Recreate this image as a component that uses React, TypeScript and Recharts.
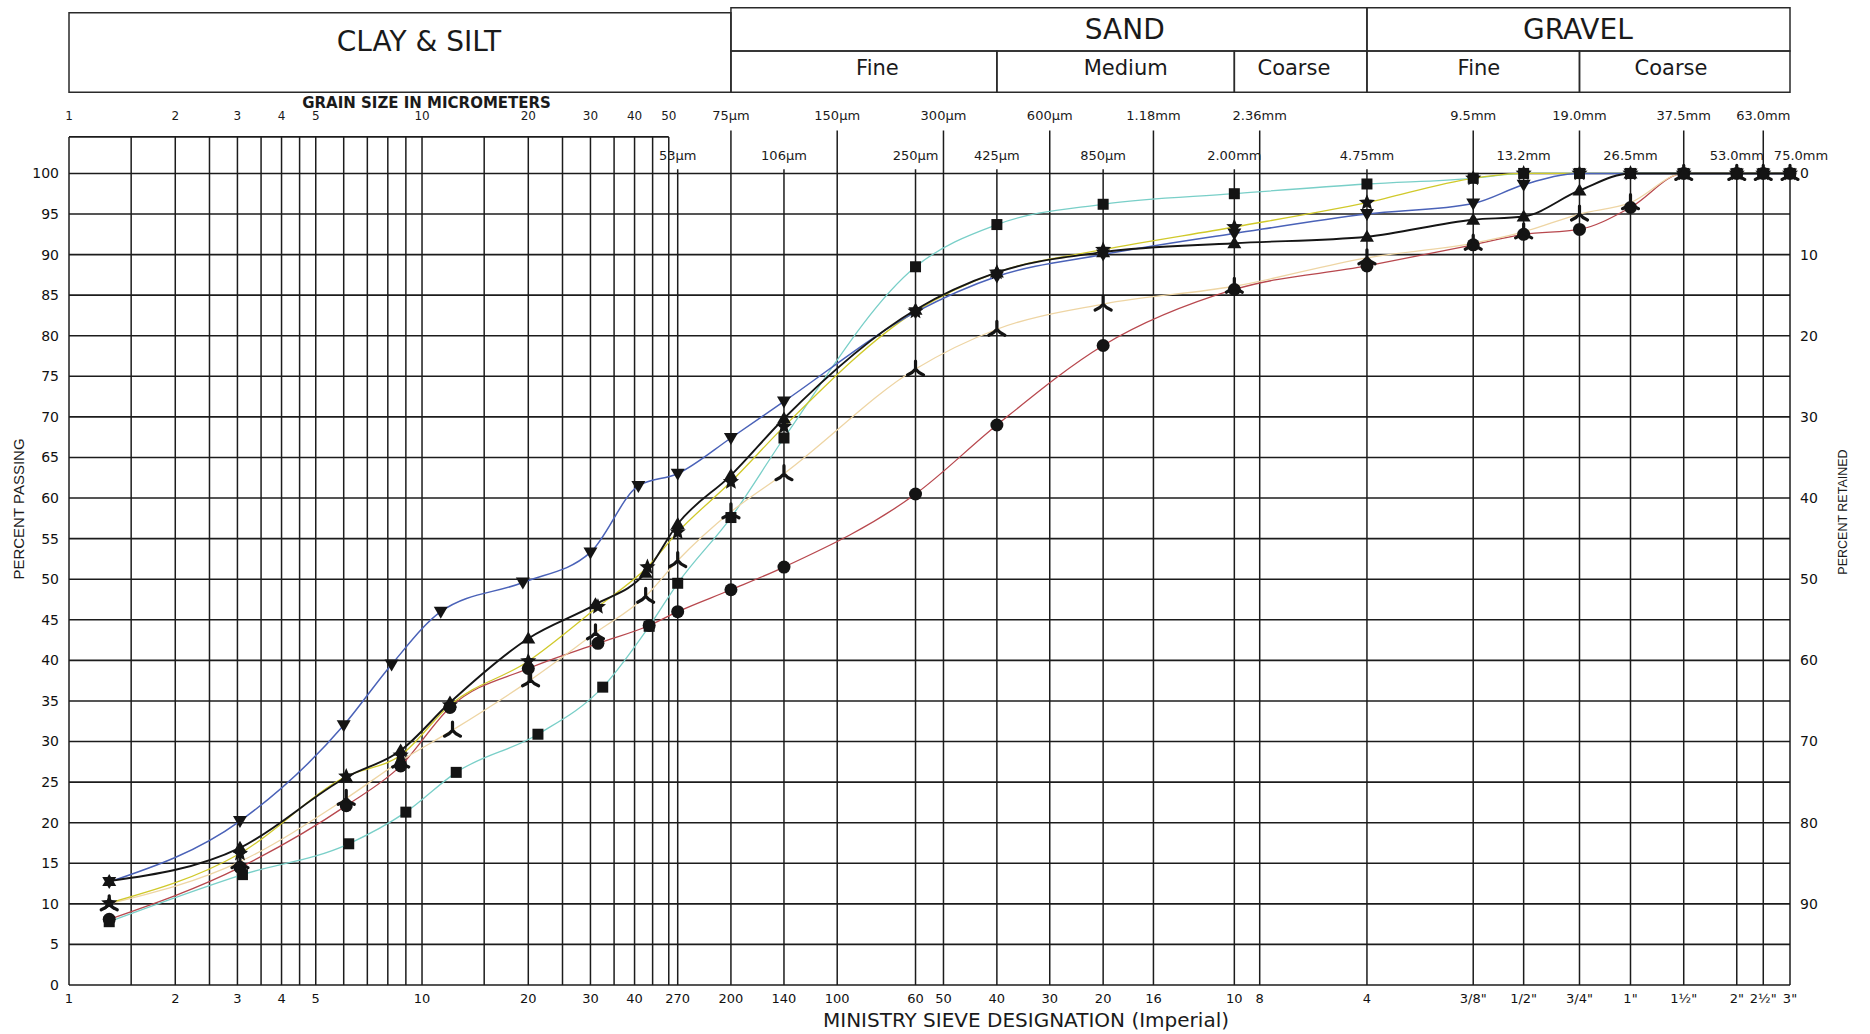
import React from "react";
import {
  ComposedChart,
  Line,
  Scatter,
  XAxis,
  YAxis,
  ReferenceLine,
  ReferenceArea,
} from "recharts";

// sieve openings (µm) shared by every sample
const sieveSizes = [53, 75, 106, 250, 425, 850, 2000, 4750, 9500, 13200, 19000, 26500, 37500, 53000, 63000, 75000];

// hydrometer diameters (µm) and percent passing, per sample
const blueFineSizes = [1.3, 3.05, 6.0, 8.2, 11.3, 19.3, 30, 41];
const blueFinePassing = [12.7, 20.2, 32.0, 39.5, 46.0, 49.6, 53.3, 61.5];
const blueSievePassing = [63.0, 67.4, 71.9, 82.9, 87.3, 90.0, 92.6, 95.0, 96.3, 98.6, 100, 100, 100, 100, 100, 100];

const blackFineSizes = [1.3, 3.05, 6.1, 8.7, 12.0, 20.0, 31, 43];
const blackFinePassing = [12.8, 16.9, 25.6, 28.9, 34.8, 42.7, 46.9, 50.8];
const blackSievePassing = [56.8, 62.8, 69.8, 83.2, 87.8, 90.3, 91.4, 92.2, 94.3, 94.7, 97.9, 100, 100, 100, 100, 100];

const yellowFineSizes = [1.3, 3.05, 6.1, 8.7, 12.0, 20.0, 31.5, 43.5];
const yellowFinePassing = [10.1, 16.2, 25.7, 28.3, 34.5, 39.9, 46.6, 51.5];
const yellowSievePassing = [55.8, 62.0, 68.8, 83.0, 87.8, 90.6, 93.4, 96.4, 99.4, 100, 100, 100, 100, 100, 100, 100];

const paleFineSizes = [1.3, 3.05, 6.1, 8.7, 12.2, 20.3, 31, 43];
const paleFinePassing = [10.0, 15.2, 23.0, 27.6, 31.4, 37.6, 43.4, 47.9];
const paleSievePassing = [52.3, 58.3, 63.0, 75.9, 80.8, 83.9, 86.1, 89.6, 91.4, 92.8, 95.0, 96.4, 100, 100, 100, 100];

const redFineSizes = [1.3, 3.05, 6.1, 8.7, 12.0, 20.0, 31.5, 44];
const redFinePassing = [8.1, 14.5, 22.1, 27.0, 34.2, 39.0, 42.1, 44.3];
const redSievePassing = [46.0, 48.7, 51.5, 60.5, 69.0, 78.8, 85.7, 88.6, 91.2, 92.5, 93.1, 95.8, 100, 100, 100, 100];

const tealFineSizes = [1.3, 3.1, 6.2, 9.0, 12.5, 21.3, 32.5, 44];
const tealFinePassing = [7.8, 13.6, 17.4, 21.3, 26.2, 30.9, 36.7, 44.2];
const tealSievePassing = [49.5, 57.6, 67.4, 88.5, 93.7, 96.2, 97.5, 98.7, 99.4, 100, 100, 100, 100, 100, 100, 100];

// grid
const passingTicks = [0, 5, 10, 15, 20, 25, 30, 35, 40, 45, 50, 55, 60, 65, 70, 75, 80, 85, 90, 95, 100];
const retainedTicks = [100, 90, 80, 70, 60, 50, 40, 30, 20, 10];
const micronLines = [1, 1.5, 2, 2.5, 3, 3.5, 4, 4.5, 5, 6, 7, 8, 9, 10, 15, 20, 25, 30, 35, 40, 45, 50];
const upperSieveLines = [75, 150, 300, 600, 1180, 2360, 9500, 19000, 37500, 63000];
const lowerSieveLines = [53, 106, 250, 425, 850, 2000, 4750, 13200, 26500, 53000, 75000];

// labels
const micronTopSizes = [1, 2, 3, 4, 5, 10, 20, 30, 40, 50];
const micronTopLabels = ["1", "2", "3", "4", "5", "10", "20", "30", "40", "50"];
const upperSieveLabels = ["75µm", "150µm", "300µm", "600µm", "1.18mm", "2.36mm", "9.5mm", "19.0mm", "37.5mm", "63.0mm"];
const lowerSieveLabels = ["53µm", "106µm", "250µm", "425µm", "850µm", "2.00mm", "4.75mm", "13.2mm", "26.5mm", "53.0mm", "75.0mm"];
const bottomTickSizes = [1, 2, 3, 4, 5, 10, 20, 30, 40, 53, 75, 106, 150, 250, 300, 425, 600, 850, 1180, 2000, 2360, 4750, 9500, 13200, 19000, 26500, 37500, 53000, 63000, 75000];
const bottomTickLabels = ["1", "2", "3", "4", "5", "10", "20", "30", "40", "270", "200", "140", "100", "60", "50", "40", "30", "20", "16", "10", "8", "4", '3/8"', '1/2"', '3/4"', '1"', '1½"', '2"', '2½"', '3"'];

// soil classes (µm bounds)
const mainZones = [
  { name: "CLAY & SILT", from: 1, to: 75, at: 9.8 },
  { name: "SAND", from: 75, to: 4750, at: 979 },
  { name: "GRAVEL", from: 4750, to: 75000, at: 18800 },
];
const subZones = [
  { name: "Fine", from: 75, to: 425, at: 195 },
  { name: "Medium", from: 425, to: 2000, at: 985 },
  { name: "Coarse", from: 2000, to: 4750, at: 2950 },
  { name: "Fine", from: 4750, to: 19000, at: 9860 },
  { name: "Coarse", from: 19000, to: 75000, at: 34500 },
];

const FONT = "DejaVu Sans";
const GRID = "#1c1c1c";

const toPoints = (fs: number[], fp: number[], sp: number[]) => [
  ...fs.map((x, i) => ({ x, y: fp[i] })),
  ...sieveSizes.map((x, i) => ({ x, y: sp[i] })),
];

const series = [
  { key: "red", color: "#b8484e", width: 1.3, marker: "circle", data: toPoints(redFineSizes, redFinePassing, redSievePassing) },
  { key: "teal", color: "#79cfc8", width: 1.3, marker: "square", data: toPoints(tealFineSizes, tealFinePassing, tealSievePassing) },
  { key: "pale", color: "#eed5a4", width: 1.3, marker: "tri", data: toPoints(paleFineSizes, paleFinePassing, paleSievePassing) },
  { key: "yellow", color: "#d0c92a", width: 1.3, marker: "star", data: toPoints(yellowFineSizes, yellowFinePassing, yellowSievePassing) },
  { key: "blue", color: "#4a62b8", width: 1.5, marker: "down", data: toPoints(blueFineSizes, blueFinePassing, blueSievePassing) },
  { key: "black", color: "#151515", width: 1.9, marker: "up", data: toPoints(blackFineSizes, blackFinePassing, blackSievePassing) },
];

function Marker({ kind, cx, cy }: { kind: string; cx: number; cy: number }) {
  const f = "#141414";
  if (kind === "down") return <path d={`M${cx - 7},${cy - 5}L${cx + 7},${cy - 5}L${cx},${cy + 7}Z`} fill={f} />;
  if (kind === "up") return <path d={`M${cx - 7},${cy + 5}L${cx + 7},${cy + 5}L${cx},${cy - 7}Z`} fill={f} />;
  if (kind === "square") return <rect x={cx - 5.5} y={cy - 5.5} width={11} height={11} fill={f} />;
  if (kind === "circle") return <circle cx={cx} cy={cy} r={6.5} fill={f} />;
  if (kind === "tri")
    return (
      <path
        d={`M${cx},${cy}L${cx},${cy - 8}M${cx},${cy}Q${cx - 3},${cy + 4} ${cx - 8},${cy + 6}M${cx},${cy}Q${cx + 3},${cy + 4} ${cx + 8},${cy + 6}`}
        stroke={f}
        strokeWidth={3.2}
        fill="none"
        strokeLinecap="round"
      />
    );
  const pts: string[] = [];
  for (let i = 0; i < 10; i++) {
    const r = i % 2 === 0 ? 8.5 : 3.8;
    const a = -Math.PI / 2 + (i * Math.PI) / 5;
    pts.push(`${cx + r * Math.cos(a)},${cy + r * Math.sin(a)}`);
  }
  return <polygon points={pts.join(" ")} fill={f} />;
}

const dotFor = (kind: string) => (p: any) => {
  if (p.cx == null || p.cy == null) return <g key={`${kind}-${p.index}`} />;
  return <Marker key={`${kind}-${p.index}`} kind={kind} cx={p.cx} cy={p.cy} />;
};

// the right-most label sits a little past the border line
const nudge = (t: string) => (t === "75.0mm" ? 11 : 0);

const textShape = (size: number, weight = 400) => (p: any) => (
  <text
    x={p.cx + nudge(p.payload.t)}
    y={p.cy}
    textAnchor="middle"
    dominantBaseline="central"
    fontSize={size}
    fontWeight={weight}
    fontFamily={FONT}
    fill="#1a1a1a"
  >
    {p.payload.t}
  </text>
);

// label rows (passing-axis units)
const ROW_UPPER = 107.1;
const ROW_LOWER = 102.2;
const FRAME_TOP = 104.5;
const UPPER_TOP = 105.3;
const LOWER_TOP = 100.5;

const micronTopData = micronTopSizes.map((x, i) => ({ x, y: ROW_UPPER, t: micronTopLabels[i] }));
const upperLabelData = upperSieveLines.map((x, i) => ({ x, y: ROW_UPPER, t: upperSieveLabels[i] }));
const lowerLabelData = lowerSieveLines.map((x, i) => ({ x, y: ROW_LOWER, t: lowerSieveLabels[i] }));
const mainZoneData = mainZones.map((z, i) => ({ x: z.at, y: i === 0 ? 116.3 : 117.7, t: z.name }));
const subZoneData = subZones.map((z) => ({ x: z.at, y: 113.0, t: z.name }));
const grainTitleData = [{ x: 10.3, y: 108.7, t: "GRAIN SIZE IN MICROMETERS" }];

const bottomLabel = (v: number) => {
  const i = bottomTickSizes.indexOf(v);
  return i >= 0 ? bottomTickLabels[i] : "";
};

export default function App() {
  const tickStyle = { fontSize: 14, fill: "#111", fontFamily: FONT };
  return (
    <div style={{ position: "absolute", left: 0, top: 0, width: 1870, height: 1034, background: "#fff" }}>
      <ComposedChart width={1870} height={1034} margin={{ top: 3, right: 0, bottom: 0, left: 0 }}>
        <XAxis
          dataKey="x"
          type="number"
          scale="log"
          domain={[1, 75000]}
          ticks={bottomTickSizes}
          interval={0}
          tickFormatter={bottomLabel}
          axisLine={false}
          tickLine={false}
          height={49}
          tickMargin={3}
          tick={{ fontSize: 13, fill: "#111", fontFamily: FONT }}
        />
        <YAxis
          dataKey="y"
          type="number"
          domain={[0, 121]}
          ticks={passingTicks}
          interval={0}
          axisLine={false}
          tickLine={false}
          width={69}
          tickMargin={4}
          tick={tickStyle}
        />
        <YAxis
          yAxisId="r"
          orientation="right"
          type="number"
          domain={[0, 121]}
          allowDataOverflow
          ticks={retainedTicks}
          interval={0}
          tickFormatter={(v: number) => String(100 - v)}
          axisLine={false}
          tickLine={false}
          width={80}
          tickMargin={4}
          tick={tickStyle}
        />

        {/* header boxes */}
        {mainZones.map((z, i) => (
          <ReferenceArea
            key={`mz${i}`}
            x1={z.from}
            x2={z.to}
            y1={i === 0 ? 110 : 115.1}
            y2={i === 0 ? 119.8 : 120.4}
            fill="none"
            stroke="#2a2a2a"
            strokeWidth={1.5}
          />
        ))}
        {subZones.map((z, i) => (
          <ReferenceArea
            key={`sz${i}`}
            x1={z.from}
            x2={z.to}
            y1={110}
            y2={115.1}
            fill="none"
            stroke="#2a2a2a"
            strokeWidth={1.5}
          />
        ))}

        {/* horizontal grid */}
        {passingTicks.map((v) => (
          <ReferenceLine key={`h${v}`} y={v} stroke={GRID} strokeWidth={1.6} />
        ))}
        <ReferenceLine segment={[{ x: 1, y: FRAME_TOP }, { x: 50, y: FRAME_TOP }]} stroke={GRID} strokeWidth={1.6} />

        {/* vertical grid */}
        {micronLines.map((v) => (
          <ReferenceLine key={`m${v}`} segment={[{ x: v, y: 0 }, { x: v, y: FRAME_TOP }]} stroke={GRID} strokeWidth={1.5} />
        ))}
        {upperSieveLines.map((v) => (
          <ReferenceLine key={`u${v}`} segment={[{ x: v, y: 0 }, { x: v, y: UPPER_TOP }]} stroke={GRID} strokeWidth={1.5} />
        ))}
        {lowerSieveLines.map((v) => (
          <ReferenceLine key={`l${v}`} segment={[{ x: v, y: 0 }, { x: v, y: LOWER_TOP }]} stroke={GRID} strokeWidth={1.5} />
        ))}

        {/* grading curves */}
        {series.map((s) => (
          <Line
            key={s.key}
            data={s.data}
            dataKey="y"
            type="monotone"
            stroke={s.color}
            strokeWidth={s.width}
            dot={dotFor(s.marker)}
            activeDot={false}
            isAnimationActive={false}
          />
        ))}

        {/* text labels placed on the axes' scales */}
        <Scatter data={micronTopData} shape={textShape(12)} isAnimationActive={false} />
        <Scatter data={upperLabelData} shape={textShape(13)} isAnimationActive={false} />
        <Scatter data={lowerLabelData} shape={textShape(13)} isAnimationActive={false} />
        <Scatter data={mainZoneData} shape={textShape(28)} isAnimationActive={false} />
        <Scatter data={subZoneData} shape={textShape(21)} isAnimationActive={false} />
        <Scatter data={grainTitleData} shape={textShape(15, 700)} isAnimationActive={false} />
      </ComposedChart>

      <div
        style={{
          position: "absolute",
          left: 18,
          top: 509,
          transform: "translate(-50%, -50%) rotate(-90deg)",
          whiteSpace: "nowrap",
          fontFamily: "Liberation Sans",
          fontSize: 15,
          color: "#1a1a1a",
        }}
      >
        PERCENT PASSING
      </div>
      <div
        style={{
          position: "absolute",
          left: 1843,
          top: 512,
          transform: "translate(-50%, -50%) rotate(-90deg)",
          whiteSpace: "nowrap",
          fontFamily: "Liberation Sans",
          fontSize: 12.5,
          color: "#1a1a1a",
        }}
      >
        PERCENT RETAINED
      </div>
      <div
        style={{
          position: "absolute",
          left: 1026,
          top: 1020,
          transform: "translate(-50%, -50%)",
          whiteSpace: "nowrap",
          fontFamily: FONT,
          fontSize: 20,
          color: "#1a1a1a",
        }}
      >
        MINISTRY SIEVE DESIGNATION (Imperial)
      </div>
    </div>
  );
}
